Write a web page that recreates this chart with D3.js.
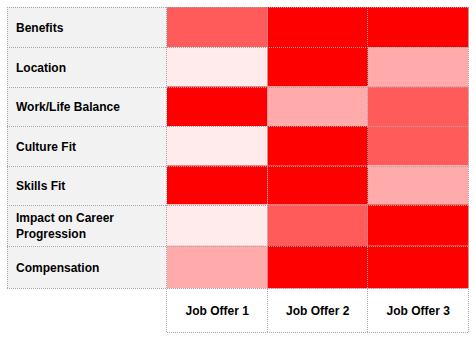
<!DOCTYPE html>
<html>
<head>
<meta charset="utf-8">
<script src="https://cdn.jsdelivr.net/npm/d3@7"></script>
<style>
html,body{margin:0;padding:0;background:#fff;}
svg{display:block;}
</style>
</head>
<body>
<svg id="chart" width="476" height="338"></svg>
<script>
// ---- data ----
const criteria = ["Benefits","Location","Work/Life Balance","Culture Fit","Skills Fit","Impact on Career Progression","Compensation"];
const offers = ["Job Offer 1","Job Offer 2","Job Offer 3"];
const offer1 = [3,1,4,1,4,1,2];
const offer2 = [4,4,2,4,4,3,4];
const offer3 = [4,2,3,3,2,4,4];
const scoreLevels = [1,2,3,4];
const levelColors = ["#FFEBEB","#FFABAB","#FF5B5B","#FF0000"];

// ---- layout ----
const svg = d3.select("#chart");
const gLeft = 7, labelW = 160, gTop = 7;
const rowWeights = [40,39.5,39.5,39.5,39,41,42.8]; // spreadsheet row heights
const headerH = 43.4;
const series = [offer1, offer2, offer3];

const x = d3.scaleBand().domain(offers).range([gLeft+labelW, 468.5]).paddingInner(0).paddingOuter(0);
const rowTops = [gTop];
rowWeights.forEach((h,i)=>rowTops.push(rowTops[i]+h));
const y = d3.scaleOrdinal().domain(criteria).range(rowTops.slice(0,-1));
const yH = d3.scaleOrdinal().domain(criteria).range(rowWeights);
const color = d3.scaleOrdinal().domain(scoreLevels).range(levelColors);
const gridBottom = rowTops[rowTops.length-1];

const cells = [];
offers.forEach((o,j)=>criteria.forEach((c,i)=>cells.push({offer:o, crit:c, v:series[j][i]})));

// label column
svg.append("g").selectAll("rect").data(criteria).join("rect")
  .attr("x", gLeft).attr("y", d=>y(d)).attr("width", labelW).attr("height", d=>yH(d))
  .attr("fill", "#F2F2F2");

// heat cells
svg.append("g").selectAll("rect").data(cells).join("rect")
  .attr("x", d=>x(d.offer)).attr("y", d=>y(d.crit))
  .attr("width", x.bandwidth()).attr("height", d=>yH(d.crit))
  .attr("fill", d=>color(d.v));

// grid lines (dotted)
const grid = svg.append("g").attr("stroke","#A6A6A6").attr("stroke-width",1).attr("stroke-dasharray","1,1").attr("fill","none").attr("shape-rendering","crispEdges");
rowTops.forEach(t=>{
  grid.append("line").attr("x1",gLeft).attr("x2",x.range()[1]).attr("y1",Math.round(t)+0.5).attr("y2",Math.round(t)+0.5);
});
grid.append("line").attr("x1",gLeft+labelW).attr("x2",x.range()[1]).attr("y1",Math.round(gridBottom+headerH)+0.5).attr("y2",Math.round(gridBottom+headerH)+0.5);
grid.append("line").attr("x1",gLeft+0.5).attr("x2",gLeft+0.5).attr("y1",gTop).attr("y2",gridBottom);
offers.forEach(o=>{
  const xx = Math.round(x(o))-0.5;
  grid.append("line").attr("x1",xx).attr("x2",xx).attr("y1",gTop).attr("y2",gridBottom+headerH);
});
grid.append("line").attr("x1",Math.round(x.range()[1])-0.5).attr("x2",Math.round(x.range()[1])-0.5).attr("y1",gTop).attr("y2",gridBottom+headerH);

// row labels
const font = "'Liberation Sans', Arial, sans-serif";
const wrapMap = {"Impact on Career Progression":["Impact on Career","Progression"]};
const lab = svg.append("g").attr("font-family",font).attr("font-weight","bold").attr("font-size","12px").attr("fill","#000");
criteria.forEach(c=>{
  const lines = wrapMap[c] || [c];
  const cy = y(c)+yH(c)/2;
  lines.forEach((ln,k)=>{
    lab.append("text").attr("x", gLeft+9)
      .attr("y", cy + 5 + (k-(lines.length-1)/2)*16)
      .text(ln);
  });
});

// column header labels
svg.append("g").attr("font-family",font).attr("font-weight","bold").attr("font-size","12px").attr("fill","#000")
  .selectAll("text").data(offers).join("text")
  .attr("x", d=>x(d)+x.bandwidth()/2).attr("y", gridBottom+headerH/2+5)
  .attr("text-anchor","middle").text(d=>d);
</script>
</body>
</html>
